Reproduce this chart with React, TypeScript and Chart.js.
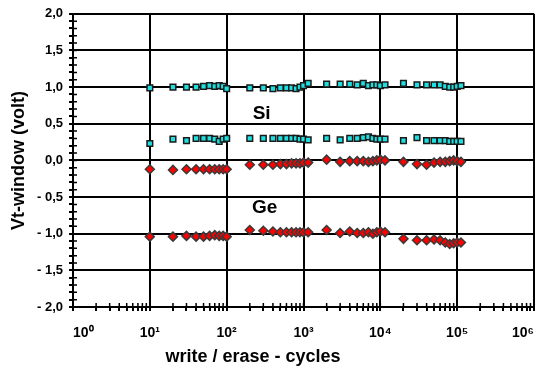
import React, { useEffect, useRef } from 'react';
import { Chart, registerables } from 'chart.js';

Chart.register(...registerables);

// write/erase cycle counts
const cycles = [
  10, 20, 30, 40, 50, 60, 70, 80, 90, 100,
  200, 300, 400, 500, 600, 700, 800, 900, 1000, 1150,
  2000, 3000, 4000, 5000, 6000, 7000, 8000, 9000, 10000, 11500,
  20000, 30000, 40000, 50000, 60000, 70000, 80000, 90000, 100000, 112000,
];

// Si, upper level
const siHigh = [
  0.99, 1.0, 1.0, 1.0, 1.01, 1.02, 1.01, 1.02, 1.01, 0.98,
  0.99, 0.99, 0.98, 0.99, 0.99, 0.99, 0.98, 1.0, 1.02, 1.05,
  1.04, 1.04, 1.04, 1.03, 1.05, 1.02, 1.03, 1.03, 1.02, 1.03,
  1.05, 1.03, 1.03, 1.03, 1.03, 1.01, 1.0, 1.0, 1.01, 1.02,
];

// Si, lower level
const siLow = [
  0.23, 0.29, 0.27, 0.3, 0.3, 0.3, 0.29, 0.26, 0.29, 0.3,
  0.3, 0.3, 0.3, 0.3, 0.3, 0.3, 0.3, 0.29, 0.29, 0.28,
  0.3, 0.28, 0.3, 0.3, 0.31, 0.32, 0.3, 0.29, 0.29, 0.29,
  0.27, 0.31, 0.27, 0.27, 0.27, 0.27, 0.26, 0.26, 0.26, 0.26,
];

// Ge, upper level
const geHigh = [
  -0.12, -0.13, -0.12, -0.12, -0.12, -0.12, -0.12, -0.12, -0.12, -0.12,
  -0.06, -0.06, -0.06, -0.05, -0.05, -0.04, -0.04, -0.04, -0.03, -0.03,
  0.01, -0.02, -0.01, -0.01, -0.01, -0.02, -0.01, 0.0, 0.01, 0.0,
  -0.02, -0.05, -0.06, -0.03, -0.02, -0.02, -0.01, 0.0, -0.01, -0.02,
];

// Ge, lower level
const geLow = [
  -1.04, -1.04, -1.03, -1.04, -1.04, -1.03, -1.02, -1.03, -1.03, -1.04,
  -0.95, -0.96, -0.97, -0.98, -0.98, -0.98, -0.98, -0.98, -0.98, -0.98,
  -0.95, -0.99, -0.97, -0.99, -0.99, -0.98, -1.0, -0.98, -0.97, -0.98,
  -1.07, -1.09, -1.09, -1.08, -1.09, -1.12, -1.14, -1.13, -1.12, -1.12,
];

const xTickValues = [1, 10, 100, 1000, 10000, 100000, 1000000];
const xTickLabels = ['10⁰', '10¹', '10²', '10³', '10⁴', '10⁵', '10⁶'];
const yTickValues = [-2, -1.5, -1, -0.5, 0, 0.5, 1, 1.5, 2];
const yTickLabels = ['- 2,0', '- 1,5', '- 1,0', '- 0,5', '0,0', '0,5', '1,0', '1,5', '2,0'];

const xTitle = 'write / erase - cycles';
const yTitle = 'Vt-window (volt)';

const annotationTexts = ['Si', 'Ge'];
const annotationX = [285, 312];
const annotationY = [0.64, -0.65];

const FONT = "'Liberation Sans', Arial, sans-serif";

const isMajorY = (v: number) => yTickValues.some((t) => Math.abs(t - v) < 1e-6);
const isMajorX = (v: number) => xTickValues.some((t) => Math.abs(t - v) < 1e-6 * t);

const decorPlugin = {
  id: 'decor',
  beforeDatasetsDraw(chart: any) {
    const { ctx, scales } = chart;
    const xs = scales.x;
    const ys = scales.y;
    ctx.save();
    ctx.strokeStyle = '#000';
    ctx.lineWidth = 1.5;
    ctx.beginPath();
    ys.ticks.forEach((t: any) => {
      const py = ys.getPixelForValue(t.value);
      ctx.moveTo(ys.right, py);
      ctx.lineTo(ys.right + 4, py);
    });
    xs.ticks.forEach((t: any) => {
      const px = xs.getPixelForValue(t.value);
      ctx.moveTo(px, xs.top);
      ctx.lineTo(px, xs.top - 4);
    });
    ctx.stroke();
    ctx.restore();
  },
  afterDraw(chart: any) {
    const { ctx, scales } = chart;
    ctx.save();
    ctx.fillStyle = '#000';
    ctx.textAlign = 'center';
    ctx.textBaseline = 'middle';
    ctx.font = `bold 19px ${FONT}`;
    annotationTexts.forEach((txt, i) => {
      ctx.fillText(txt, scales.x.getPixelForValue(annotationX[i]), scales.y.getPixelForValue(annotationY[i]));
    });
    ctx.font = `bold 18px ${FONT}`;
    ctx.fillText(xTitle, 253, 357);
    ctx.restore();
  },
};

export default function App() {
  const canvasRef = useRef<HTMLCanvasElement | null>(null);

  useEffect(() => {
    const canvas = canvasRef.current;
    if (!canvas) return;
    const toPoints = (ys: number[]) => cycles.map((x, i) => ({ x, y: ys[i] }));
    const siStyle = {
      pointStyle: 'rect',
      pointRadius: 4,
      pointBackgroundColor: '#1ee0e0',
      pointBorderColor: '#1a1a1a',
      pointBorderWidth: 1.5,
      showLine: false,
    };
    const geStyle = {
      pointStyle: 'rectRot',
      pointRadius: 4.5,
      pointBackgroundColor: '#ff0000',
      pointBorderColor: '#3a3a3a',
      pointBorderWidth: 1.5,
      showLine: false,
    };
    const chart = new Chart(canvas, {
      type: 'scatter',
      data: {
        datasets: [
          { label: 'Si high', data: toPoints(siHigh), ...siStyle },
          { label: 'Si low', data: toPoints(siLow), ...siStyle },
          { label: 'Ge high', data: toPoints(geHigh), ...geStyle },
          { label: 'Ge low', data: toPoints(geLow), ...geStyle },
        ],
      } as any,
      options: {
        animation: false,
        responsive: false,
        devicePixelRatio: 1,
        layout: { padding: { top: 13, right: 5, left: 4, bottom: 0 } },
        plugins: { legend: { display: false }, tooltip: { enabled: false } },
        scales: {
          x: {
            type: 'logarithmic',
            min: 1,
            max: 1000000,
            afterBuildTicks: (scale: any) => {
              const ticks: any[] = [];
              for (let e = 0; e < 6; e++) {
                for (let m = 1; m <= 9; m++) {
                  const v = m * Math.pow(10, e);
                  ticks.push({ value: v, major: m === 1 });
                }
              }
              ticks.push({ value: 1000000, major: true });
              scale.ticks = ticks;
            },
            afterFit: (scale: any) => {
              scale.height = 62;
              scale.paddingLeft = 0;
              scale.paddingRight = 0;
            },
            grid: {
              color: (c: any) => (c.tick && isMajorX(c.tick.value) ? '#000' : 'rgba(0,0,0,0)'),
              tickColor: '#000',
              lineWidth: 2,
              tickLength: 4,
            },
            border: { color: '#000', width: 2 },
            ticks: {
              autoSkip: false,
              maxRotation: 0,
              align: 'inner',
              padding: 14,
              color: '#000',
              font: { family: FONT, size: 14, weight: 'bold' },
              callback: (v: any) => {
                const i = xTickValues.findIndex((t) => Math.abs(t - Number(v)) < 1e-6 * t);
                return i >= 0 ? xTickLabels[i] : '';
              },
            },
          },
          y: {
            type: 'linear',
            min: -2,
            max: 2,
            afterBuildTicks: (scale: any) => {
              const ticks: any[] = [];
              for (let i = -20; i <= 20; i++) ticks.push({ value: i / 10 });
              scale.ticks = ticks;
            },
            afterFit: (scale: any) => {
              scale.width = 69;
            },
            grid: {
              color: (c: any) => (c.tick && isMajorY(c.tick.value) ? '#000' : 'rgba(0,0,0,0)'),
              tickColor: '#000',
              lineWidth: 2,
              tickLength: 4,
            },
            border: { color: '#000', width: 2 },
            title: {
              display: true,
              text: yTitle,
              color: '#000',
              font: { family: FONT, size: 18, weight: 'bold' },
              padding: { top: 4, bottom: 4 },
            },
            ticks: {
              autoSkip: false,
              padding: 6,
              color: '#000',
              font: { family: FONT, size: 13, weight: 'bold' },
              callback: (v: any) => {
                const i = yTickValues.findIndex((t) => Math.abs(t - Number(v)) < 1e-6);
                return i >= 0 ? yTickLabels[i] : '';
              },
            },
          },
        },
      } as any,
      plugins: [decorPlugin],
    });
    return () => chart.destroy();
  }, []);

  return (
    <div style={{ position: 'fixed', left: 0, top: 0, width: 540, height: 369, background: '#fff' }}>
      <canvas ref={canvasRef} width={540} height={369} />
    </div>
  );
}
